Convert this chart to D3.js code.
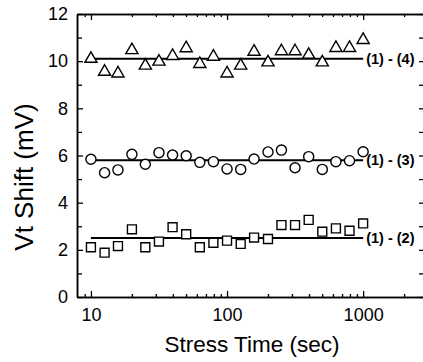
<!DOCTYPE html>
<html>
<head>
<meta charset="utf-8">
<script src="https://cdn.jsdelivr.net/npm/d3@7"></script>
<style>
  body { margin: 0; background: #fff; }
  text { font-family: Arial, "Liberation Sans", sans-serif; fill: #000; }
</style>
</head>
<body>
<div id="chart"></div>
<script>
// stress times (sec)
const stressTimes = [10, 12.6, 15.8, 20, 25.1, 31.6, 39.8, 50.1, 63.1, 79.4, 100,
  126, 158, 200, 251, 316, 398, 501, 631, 794, 1000];

// Vt shift (mV) per pair
const shift12 = [2.11, 1.88, 2.16, 2.87, 2.11, 2.35, 2.96, 2.66, 2.11, 2.30, 2.39,
  2.25, 2.52, 2.46, 3.05, 3.05, 3.27, 2.77, 2.91, 2.81, 3.12];
const shift13 = [5.84, 5.27, 5.39, 6.05, 5.63, 6.12, 6.02, 5.99, 5.71, 5.74, 5.43,
  5.41, 5.85, 6.15, 6.23, 5.48, 5.95, 5.41, 5.74, 5.78, 6.16];
const shift14 = [10.1, 9.55, 9.48, 10.47, 9.81, 9.98, 10.22, 10.55, 9.88, 10.19, 9.48,
  9.81, 10.4, 9.95, 10.42, 10.42, 10.27, 9.95, 10.56, 10.56, 10.9];

const pairLabels = ['(1) - (2)', '(1) - (3)', '(1) - (4)'];
const pairMeans = [2.5, 5.8, 10.1];
const fitRange = [10, 1000];

const xMajor = [10, 100, 1000];
const xMinor = [9, 20, 30, 40, 50, 60, 70, 80, 90, 200, 300, 400, 500, 600, 700, 800, 900, 2000];
const yMajor = [0, 2, 4, 6, 8, 10, 12];
const yMinor = [1, 3, 5, 7, 9, 11];

const width = 423, height = 362;
const margin = { top: 14, left: 77, right: -1, bottom: 65 };

const svg = d3.select('#chart').append('svg')
  .attr('width', width)
  .attr('height', height);

const x = d3.scaleLog()
  .domain([7.9, 2800])
  .range([margin.left, width - margin.right]);
const y = d3.scaleLinear()
  .domain([0, 12])
  .range([height - margin.bottom, margin.top]);

const plotBottom = height - margin.bottom;
const plotRight = width - margin.right;

function styleAxis(g) {
  g.selectAll('path').attr('stroke', '#000').attr('stroke-width', 1.5);
  g.selectAll('line').attr('stroke', '#000').attr('stroke-width', 1.3);
}

// bottom axis
svg.append('g')
  .attr('transform', `translate(0,${plotBottom})`)
  .call(d3.axisBottom(x).tickValues(xMinor).tickSizeInner(-3).tickSizeOuter(0).tickFormat(''))
  .call(styleAxis);
const bottomAxis = svg.append('g')
  .attr('transform', `translate(0,${plotBottom})`)
  .call(d3.axisBottom(x).tickValues(xMajor).tickSizeInner(-6).tickSizeOuter(0)
    .tickFormat(d3.format('d')).tickPadding(11))
  .call(styleAxis);
bottomAxis.selectAll('text').attr('font-size', 18).attr('font-family', 'Arial, Liberation Sans');

// top axis
svg.append('g')
  .attr('transform', `translate(0,${margin.top})`)
  .call(d3.axisTop(x).tickValues(xMinor).tickSizeInner(-3).tickSizeOuter(0).tickFormat(''))
  .call(styleAxis);
svg.append('g')
  .attr('transform', `translate(0,${margin.top})`)
  .call(d3.axisTop(x).tickValues(xMajor).tickSizeInner(-6).tickSizeOuter(0).tickFormat(''))
  .call(styleAxis);

// left axis
svg.append('g')
  .attr('transform', `translate(${margin.left},0)`)
  .call(d3.axisLeft(y).tickValues(yMinor).tickSizeInner(-5).tickSizeOuter(0).tickFormat(''))
  .call(styleAxis);
const leftAxis = svg.append('g')
  .attr('transform', `translate(${margin.left},0)`)
  .call(d3.axisLeft(y).tickValues(yMajor).tickSizeInner(-6).tickSizeOuter(0).tickPadding(9))
  .call(styleAxis);
leftAxis.selectAll('text').attr('font-size', 18).attr('font-family', 'Arial, Liberation Sans');

// right axis
svg.append('g')
  .attr('transform', `translate(${plotRight},0)`)
  .call(d3.axisRight(y).tickValues(yMajor.concat(yMinor)).tickSizeInner(-5).tickSizeOuter(0).tickFormat(''))
  .call(styleAxis);

// axis titles
svg.append('text')
  .attr('x', 252).attr('y', 352)
  .attr('text-anchor', 'middle')
  .attr('font-size', 22.5)
  .text('Stress Time (sec)');
svg.append('text')
  .attr('transform', 'translate(33,177) rotate(-90)')
  .attr('text-anchor', 'middle')
  .attr('font-size', 26)
  .text('Vt Shift (mV)');

// mean lines + labels
const plot = svg.append('g');
pairMeans.forEach((m, i) => {
  plot.append('line')
    .attr('x1', x(fitRange[0])).attr('x2', x(fitRange[1]))
    .attr('y1', y(m)).attr('y2', y(m))
    .attr('stroke', '#000').attr('stroke-width', 2);
  plot.append('text')
    .attr('x', x(fitRange[1]) + 3)
    .attr('y', y(m))
    .attr('dy', '0.35em')
    .attr('font-size', 14.5)
    .attr('font-weight', 'bold')
    .text(pairLabels[i]);
});

// markers
const markerSeries = [
  { values: shift12, symbol: d3.symbolSquare, size: 80 },
  { values: shift13, symbol: d3.symbolCircle, size: 80 },
  { values: shift14, symbol: d3.symbolTriangle, size: 64 }
];
markerSeries.forEach(s => {
  plot.selectAll(null)
    .data(s.values)
    .enter().append('path')
    .attr('transform', (d, i) => `translate(${x(stressTimes[i])},${y(d)})`)
    .attr('d', d3.symbol().type(s.symbol).size(s.size))
    .attr('fill', '#fff')
    .attr('stroke', '#000')
    .attr('stroke-width', 1.4);
});
</script>
</body>
</html>
